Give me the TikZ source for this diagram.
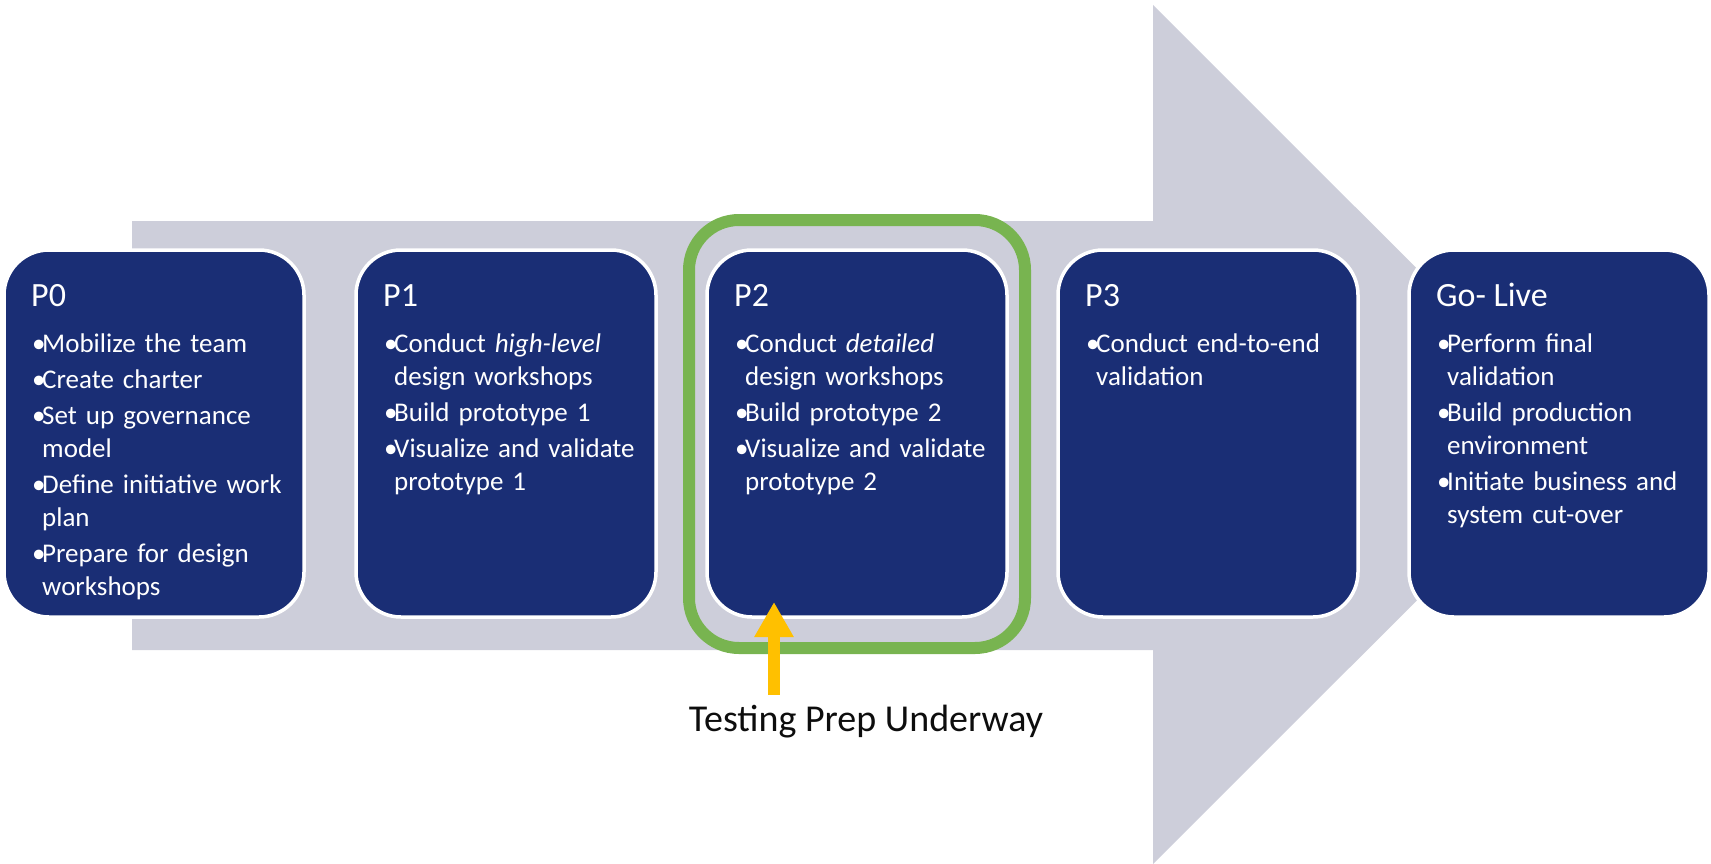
\documentclass[tikz,border=0pt]{standalone}
\usepackage{fontspec}
\setmainfont{Carlito}
\usepackage{tikz}
\usetikzlibrary{arrows.meta,positioning}
\definecolor{navy}{RGB}{26,46,117}
\definecolor{shaftgrey}{RGB}{205,206,218}
\definecolor{framegreen}{RGB}{120,180,80}
\definecolor{prepyellow}{RGB}{255,192,0}
\newlength{\bulw}
\setlength{\bulw}{10pt}
\newcommand{\tasklist}{\setlength{\parskip}{3pt}}
\newcommand{\bitem}[1]{\hangindent=\bulw\hangafter=1\makebox[\bulw][l]{\textbullet}#1\par}

\begin{document}
\begin{tikzpicture}[x=1pt, y=-1pt,
    shaft/.style={fill=shaftgrey},
    phase/.style={draw=white, line width=3.5pt, fill=navy, rounded corners=45pt,
        minimum width=300pt, minimum height=367pt, outer sep=0pt},
    phasetitle/.style={anchor=base west, inner sep=0pt, text=white,
        font=\fontsize{34}{40}\selectfont},
    tasks/.style={anchor=base west, inner sep=0pt, text=white, text width=268pt,
        align=left, font=\fontsize{27}{33}\selectfont},
    focusframe/.style={draw=framegreen, line width=12pt, rounded corners=50pt,
        minimum width=336pt, minimum height=428pt},
    prep/.style={draw=prepyellow, line width=12pt,
        -{Triangle[width=37pt, length=35pt]}},
    preplabel/.style={anchor=base, inner sep=0pt, text=black!95,
        font=\fontsize{38}{44}\selectfont}]
            \useasboundingbox (0, 0) rectangle (1711, 864);
            \fill[shaft] (132, 221) -- (1153, 221) -- (1153, 5) -- (1583, 434.5)
                -- (1153, 864) -- (1153, 650) -- (132, 650) -- cycle;
            \draw (857, 434) node[focusframe](p2frame){};
            \draw (154, 433.5) node[phase](p0){};
            \draw (506, 433.5) node[phase](p1){};
            \draw (857, 433.5) node[phase](p2){};
            \draw (1208, 433.5) node[phase](p3){};
            \draw (1559, 433.5) node[phase](golive){};
            \draw ([shift={(27, 56)}]p0.north west) node[phasetitle](p0title){P0};
            \draw ([shift={(27, 56)}]p1.north west) node[phasetitle](p1title){P1};
            \draw ([shift={(27, 56)}]p2.north west) node[phasetitle](p2title){P2};
            \draw ([shift={(27, 56)}]p3.north west) node[phasetitle](p3title){P3};
            \draw ([shift={(27, 56)}]golive.north west) node[phasetitle](golivetitle){Go- Live};
            \draw ([shift={(28, 102)}]p0.north west) node[tasks](p0tasks){\tasklist
                \bitem{Mobilize the team}
                \bitem{Create charter}
                \bitem{Set up governance\newline model}
                \bitem{Define initiative work\newline plan}
                \bitem{Prepare for design\newline workshops}};
            \draw ([shift={(28, 102)}]p1.north west) node[tasks](p1tasks){\tasklist
                \bitem{Conduct \textit{high-level}\newline design workshops}
                \bitem{Build prototype 1}
                \bitem{Visualize and validate\newline prototype 1}};
            \draw ([shift={(28, 102)}]p2.north west) node[tasks](p2tasks){\tasklist
                \bitem{Conduct \textit{detailed}\newline design workshops}
                \bitem{Build prototype 2}
                \bitem{Visualize and validate\newline prototype 2}};
            \draw ([shift={(28, 102)}]p3.north west) node[tasks](p3tasks){\tasklist
                \bitem{Conduct end-to-end\newline validation}};
            \draw ([shift={(28, 102)}]golive.north west) node[tasks](golivetasks){\tasklist
                \bitem{Perform final\newline validation}
                \bitem{Build production\newline environment}
                \bitem{Initiate business and\newline system cut-over}};
            \coordinate (tail) at (774, 695);
            \coordinate (tip) at (774, 602);
            \draw[prep] (tail) -- (tip);
            \draw (866, 731) node[preplabel](testing){Testing Prep Underway};
        \end{tikzpicture}
\end{document}
